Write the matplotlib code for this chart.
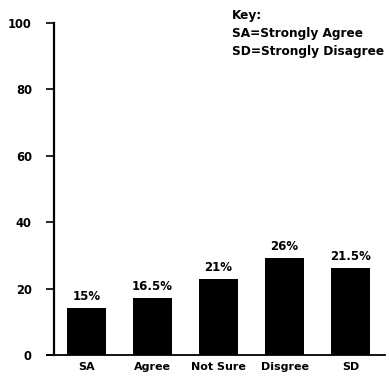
import matplotlib
matplotlib.use("Agg")
import matplotlib.pyplot as plt

categories = ["SA", "Agree", "Not Sure", "Disgree", "SD"]
bar_heights = [14.2, 17.3, 23.0, 29.1, 26.1]
pct_labels = ["15%", "16.5%", "21%", "26%", "21.5%"]
y_ticks = [0, 20, 40, 60, 80, 100]
key_lines = ["Key:", "SA=Strongly Agree", "SD=Strongly Disagree"]

plt.rcParams['font.family'] = ['DejaVu Sans']
plt.rcParams['font.weight'] = 'bold'

fig = plt.figure(figsize=(3.89, 3.78), dpi=100)
ax = fig.add_axes([54 / 389, 23 / 378, 331 / 389, 332 / 378])

x = range(len(categories))
ax.bar(x, bar_heights, width=0.59, color='black')

for xi, h, lab in zip(x, bar_heights, pct_labels):
    ax.text(xi, h + 1.5, lab, ha='center', va='bottom', fontsize=8.5, fontweight='bold')

ax.set_xlim(-0.49, 4.52)
ax.set_ylim(0, 100)
ax.set_yticks(y_ticks)
ax.set_yticklabels([str(t) for t in y_ticks], fontsize=8.3, fontweight='bold')
ax.set_xticks(list(x))
ax.set_xticklabels(categories, fontsize=8, fontweight='bold')
ax.tick_params(axis='x', length=0, pad=5)
ax.tick_params(axis='y', length=6, width=1.2, pad=10)

for side in ['top', 'right', 'bottom']:
    ax.spines[side].set_visible(False)
ax.spines['left'].set_linewidth(1.6)
ax.axhline(0, xmin=-0.02, xmax=1.0, color='black', lw=1.3, clip_on=False)

# key text sits in the top right corner, nearly touching the edge
for i, line in enumerate(key_lines):
    fig.text(232 / 389, 1 - (16 + 18 * i) / 378, line, ha='left', va='center',
             fontsize=8.7, fontweight='bold')

fig.savefig("out.png", dpi=100, facecolor='white')
